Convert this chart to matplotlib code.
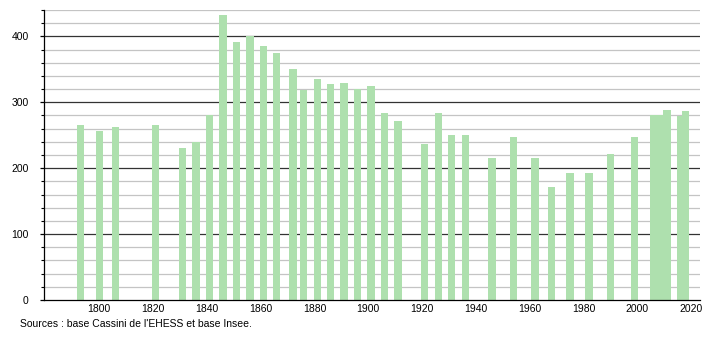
import matplotlib.pyplot as plt
from matplotlib.ticker import MultipleLocator

# Population par recensement
annees = [1793, 1800, 1806, 1821, 1831, 1836, 1841, 1846, 1851, 1856,
          1861, 1866, 1872, 1876, 1881, 1886, 1891, 1896, 1901, 1906,
          1911, 1921, 1926, 1931, 1936, 1946, 1954, 1962, 1968, 1975,
          1982, 1990, 1999, 2006, 2008, 2011, 2016, 2018]
population = [265, 256, 262, 266, 230, 240, 281, 432, 391, 400,
              385, 374, 351, 319, 335, 327, 329, 320, 324, 284,
              272, 237, 283, 251, 251, 215, 248, 215, 172, 193,
              193, 222, 248, 281, 280, 288, 279, 287]
ticks_x = list(range(1800, 2021, 20))

plt.rcParams['font.family'] = ['Liberation Sans', 'DejaVu Sans']

fig = plt.figure(figsize=(7.1, 3.4), dpi=100)
ax = fig.add_axes([0.062, 0.1176, 0.924, 0.853])

# grille : mineure tous les 20, majeure tous les 100
for v in range(20, 441, 20):
    if v % 100 == 0:
        ax.axhline(v, color='#333333', lw=0.9, zorder=1)
    else:
        ax.axhline(v, color='#c4c4c4', lw=0.9, zorder=1)

ax.bar(annees, population, width=2.7, color='#aee0ae', zorder=2)

ax.set_xlim(1779.5, 2023.3)
ax.set_ylim(0, 440)
ax.set_xticks(ticks_x)
ax.yaxis.set_major_locator(MultipleLocator(100))
ax.yaxis.set_minor_locator(MultipleLocator(20))

for s in ['top', 'right']:
    ax.spines[s].set_visible(False)
ax.spines['left'].set_linewidth(0.9)
ax.spines['bottom'].set_linewidth(0.9)
ax.tick_params(axis='x', length=0, labelsize=7.5, pad=3)
ax.tick_params(axis='y', which='major', length=3, width=0.9, labelsize=7.5, pad=8)
ax.tick_params(axis='y', which='minor', length=2, width=0.8)

fig.text(0.028, 0.038, "Sources : base Cassini de l'EHESS et base Insee.", fontsize=7.5)

fig.savefig('out.png', dpi=100)
